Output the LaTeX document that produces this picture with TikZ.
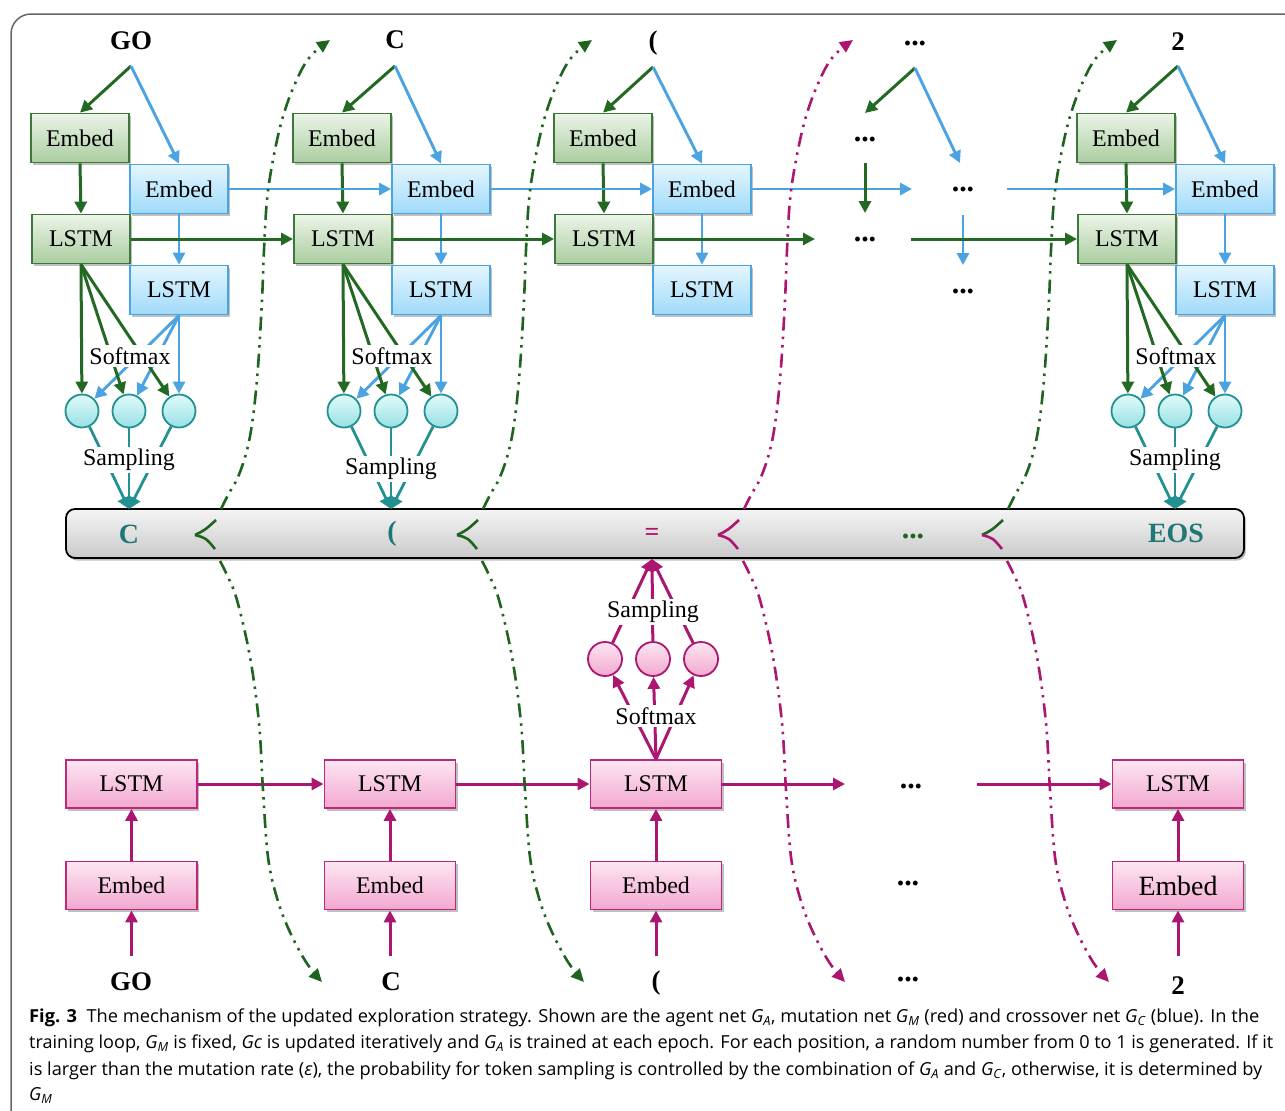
\documentclass[tikz,border=0pt]{standalone}
\usepackage{fontspec}
\setmainfont{Liberation Serif}
\newfontfamily\capfont{Open Sans}
\usepackage{graphicx}
\usetikzlibrary{arrows.meta,shadows}
\definecolor{grn}{RGB}{35,105,35}
\definecolor{gborder}{RGB}{60,120,60}
\definecolor{gtop}{RGB}{236,244,232}
\definecolor{gbot}{RGB}{170,205,160}
\definecolor{blu}{RGB}{75,163,225}
\definecolor{btop}{RGB}{228,246,255}
\definecolor{bbot}{RGB}{160,218,250}
\definecolor{tealc}{RGB}{35,145,145}
\definecolor{ctop}{RGB}{225,250,250}
\definecolor{cbot}{RGB}{150,225,228}
\definecolor{mag}{RGB}{172,22,112}
\definecolor{ptop}{RGB}{253,230,242}
\definecolor{pbot}{RGB}{242,168,208}
\definecolor{pborder}{RGB}{190,40,120}
\definecolor{tok}{RGB}{30,120,120}
\definecolor{cgrn}{RGB}{30,100,30}
\newcommand\Gs[1]{\textit{G}\textsubscript{\textit{#1}}}
\begin{document}
\begin{tikzpicture}[x=1bp,y=-1bp,
  shad/.style={drop shadow={shadow xshift=2bp,shadow yshift=-2.5bp,opacity=0.35,fill=black!70}},
  boxtxt/.style={font=\fontsize{24}{26}\selectfont},
  gbox/.style={boxtxt,draw=gborder,line width=1.8bp,top color=gtop,bottom color=gbot,minimum width=98bp,minimum height=49bp,inner sep=0pt,shad},
  bbox/.style={boxtxt,draw=blu,line width=1.8bp,top color=btop,bottom color=bbot,minimum width=98bp,minimum height=49bp,inner sep=0pt,shad},
  pbox/.style={boxtxt,draw=pborder,line width=1.8bp,top color=ptop,bottom color=pbot,minimum width=131bp,minimum height=48bp,inner sep=0pt,shad},
  tcirc/.style={circle,draw=tealc,line width=1.8bp,top color=ctop,bottom color=cbot,minimum size=33bp,inner sep=0pt},
  pcirc/.style={circle,draw=mag,line width=1.8bp,top color=ptop,bottom color=pbot,minimum size=34bp,inner sep=0pt},
  garr/.style={draw=grn,line width=3bp,-{Triangle[length=12bp,width=12bp]}},
  barr/.style={draw=blu,line width=2.9bp,-{Triangle[length=12bp,width=12bp]}},
  tarr/.style={draw=tealc,line width=2.8bp,-{Triangle[length=12bp,width=13bp]}},
  parr/.style={draw=mag,line width=3bp,-{Triangle[length=12bp,width=12bp]}},
  lbl/.style={boxtxt,fill=white,inner sep=2bp},
  inlab/.style={font=\fontsize{27}{30}\selectfont\bfseries,inner sep=0pt},
  dots/.style={font=\fontsize{30}{30}\selectfont\bfseries,inner sep=0pt},
  tokn/.style={font=\fontsize{28}{30}\selectfont\bfseries,text=tok,inner sep=0pt},
  curve/.style={line width=2.6bp,dash pattern=on 14bp off 6bp on 2.5bp off 6bp on 2.5bp off 6bp,-{Triangle[length=13bp,width=12bp]}},
  kink/.style={line width=2.6bp}
]
\useasboundingbox (0,0) rectangle (1285,1111);
\fill[white] (0,0) rectangle (1285,1111);
% frame
\draw[black!60,line width=1.5bp,rounded corners=20bp] (11,1111) -- (11,14) -- (1285,14);

% ===== bar =====
\node[draw=black,line width=1.8bp,rounded corners=9bp,top color=gray!8,bottom color=gray!42,minimum width=1178bp,minimum height=49bp,inner sep=0pt,shad] (bar) at (655,533.5) {};
\node[tokn] (tk1) at (129,534) {C};
\node[tokn] (tk2) at (392,534) {(};
\node[tokn,text=mag,font=\fontsize{26}{26}\selectfont\bfseries] (tk3) at (652,534) {=};
\node[dots,text=cgrn] (tk4) at (913,536) {...};
\node[tokn] (tk5) at (1176,533) {EOS};

% ===== top network =====
\node[inlab] (in1) at (131,41) {GO};
\node[inlab] (in2) at (395,40) {C};
\node[inlab] (in3) at (653,43) {(};
\node[dots] (in4) at (915,43) {...};
\node[inlab] (in5) at (1178,42) {2};
\coordinate (s1) at (131,66);
\coordinate (s2) at (395,66);
\coordinate (s3) at (653,67);
\coordinate (s4) at (915,68);
\coordinate (s5) at (1178,66);

\foreach \i/\x in {1/0,2/262,3/523,5/1046}{
  \node[gbox] (ge\i) at (80+\x,138) {Embed};
  \node[bbox] (be\i) at (179+\x,189) {Embed};
  \node[gbox] (gl\i) at (81+\x,239) {LSTM};
  \node[bbox] (bl\i) at (179+\x,290) {LSTM};
  \draw[garr] (s\i) -- (ge\i.north);
  \draw[barr] (s\i) -- (be\i.north);
  \draw[garr] (ge\i.south) -- (gl\i.north);
  \draw[barr] (be\i.south) -- (bl\i.north);
}
\draw[garr] (gl1.east) -- (gl2.west);
\draw[garr] (gl2.east) -- (gl3.west);
\draw[barr] (be1.east) -- (be2.west);
\draw[barr] (be2.east) -- (be3.west);
% dots column
\coordinate (g4a) at (865,113);
\coordinate (b4a) at (960,163);
\draw[garr] (s4) -- (g4a);
\draw[barr] (s4) -- (b4a);
\node[dots] (d41) at (865,139) {...};
\node[dots] (d42) at (865,239) {...};
\node[dots] (d43) at (963,189) {...};
\node[dots] (d44) at (963,291) {...};
\coordinate (g4b) at (865,163);
\coordinate (g4c) at (865,213);
\coordinate (b4b) at (963,215);
\coordinate (b4c) at (963,265);
\coordinate (b4d) at (912,189);
\coordinate (b4e) at (1007,189);
\coordinate (g4d) at (815,239);
\coordinate (g4e) at (911,239);
\draw[barr] (be3.east) -- (b4d);
\draw[garr] (gl3.east) -- (g4d);
\draw[garr] (g4b) -- (g4c);
\draw[barr] (b4b) -- (b4c);
\draw[barr] (b4e) -- (be5.west);
\draw[garr] (g4e) -- (gl5.west);

% softmax / sampling (top)
\foreach \i/\x/\sy/\smy in {1/0/460/356,2/262/469/356,5/1046/460/356}{
  \node[tcirc] (c\i a) at (82+\x,411) {};
  \node[tcirc] (c\i b) at (129+\x,411) {};
  \node[tcirc] (c\i c) at (179+\x,411) {};
  \coordinate (m\i) at (129+\x,509);
  \foreach \c in {a,b,c}{
    \draw[garr] (gl\i.south) -- (c\i\c);
    \draw[barr] (bl\i.south) -- (c\i\c);
    \draw[tarr] (c\i\c) -- (m\i);
  }
  \node[lbl] (sm\i) at (130+\x,\smy) {Softmax};
  \node[lbl] (sa\i) at (129+\x,\sy) {Sampling};
}

% ===== bottom network =====
\foreach \i/\x in {1/131.5,2/390,3/656,5/1178}{
  \node[pbox] (pl\i) at (\x,784) {LSTM};
  \coordinate (ps\i) at (\x,956);
}
\foreach \i/\x in {1/131.5,2/390,3/656}{
  \node[pbox] (pe\i) at (\x,885.5) {Embed};
}
\node[pbox,font=\fontsize{28}{30}\selectfont] (pe5) at (1178,885.5) {Embed};
\foreach \i in {1,2,3,5}{
  \draw[parr] (pe\i.north) -- (pl\i.south);
  \draw[parr] (ps\i) -- (pe\i.south);
}
\node[inlab] (bi1) at (131,982) {GO};
\node[inlab] (bi2) at (391,982) {C};
\node[inlab] (bi3) at (656,983) {(};
\node[dots] (bi4) at (908,979) {...};
\node[inlab] (bi5) at (1178,986) {2};
\node[dots] (bd1) at (911,786) {...};
\node[dots] (bd2) at (908,883) {...};
\coordinate (pq1) at (845,784);
\coordinate (pq2) at (977,784);
\draw[parr] (pl1.east) -- (pl2.west);
\draw[parr] (pl2.east) -- (pl3.west);
\draw[parr] (pl3.east) -- (pq1);
\draw[parr] (pq2) -- (pl5.west);
% mutation softmax/sampling
\node[pcirc] (pa) at (605,659) {};
\node[pcirc] (pb) at (653,659) {};
\node[pcirc] (pc) at (701,659) {};
\coordinate (m3) at (652,559);
\foreach \c in {pa,pb,pc}{
  \draw[parr] (pl3.north) -- (\c);
  \draw[parr] (\c) -- (m3);
}
\node[lbl] (psm) at (656,716) {Softmax};
\node[lbl] (psa) at (653,612) {Sampling};

% ===== dash-dot curves =====
\foreach \dx/\ct/\cb [count=\i] in {0/cgrn/cgrn,262/cgrn/cgrn,523/mag/mag,787/cgrn/mag}{
  \begin{scope}[xshift=\dx bp]
    \coordinate (kt\i) at (216,520);
    \coordinate (kv\i) at (195,535);
    \coordinate (kb\i) at (215,549);
    \coordinate (ct\i) at (221,509);
    \coordinate (cb\i) at (220,561);
    \draw[curve,draw=\ct] plot[smooth,tension=0.6] coordinates {(ct\i) (228,495) (238,477) (247,450) (253,417) (258,367) (262,300) (264,250) (267,200) (273,160) (282,120) (294,86) (309,58) (330,40)};
    \draw[curve,draw=\cb] plot[smooth,tension=0.6] coordinates {(cb\i) (227,575) (237,600) (250,657) (259,723) (263,790) (268,857) (277,898) (289,930) (306,962) (322,982)};
    \draw[kink,draw=\ct] (kt\i) .. controls (205,530) .. (kv\i);
    \draw[kink,draw=\cb] (kv\i) .. controls (206,538) .. (kb\i);
  \end{scope}
}

% ===== caption =====
\node[anchor=base west,inner sep=0pt] (cap1) at (29,1022) {\resizebox{1230bp}{\height}{\capfont\fontsize{18}{18}\selectfont\textbf{Fig. 3}\ \ The mechanism of the updated exploration strategy. Shown are the agent net \Gs{A}, mutation net \Gs{M} (red) and crossover net \Gs{C} (blue). In the}};
\node[anchor=base west,inner sep=0pt] (cap2) at (29,1048.5) {\resizebox{1244bp}{\height}{\capfont\fontsize{18}{18}\selectfont training loop, \Gs{M} is fixed, \textit{Gc} is updated iteratively and \Gs{A} is trained at each epoch. For each position, a random number from 0 to 1 is generated. If it}};
\node[anchor=base west,inner sep=0pt] (cap3) at (29,1075) {\resizebox{1233bp}{\height}{\capfont\fontsize{18}{18}\selectfont is larger than the mutation rate (\textit{ε}), the probability for token sampling is controlled by the combination of \Gs{A} and \Gs{C}, otherwise, it is determined by}};
\node[anchor=base west,inner sep=0pt] (cap4) at (29,1100) {\capfont\fontsize{18}{18}\selectfont\Gs{M}};
\end{tikzpicture}
\end{document}
